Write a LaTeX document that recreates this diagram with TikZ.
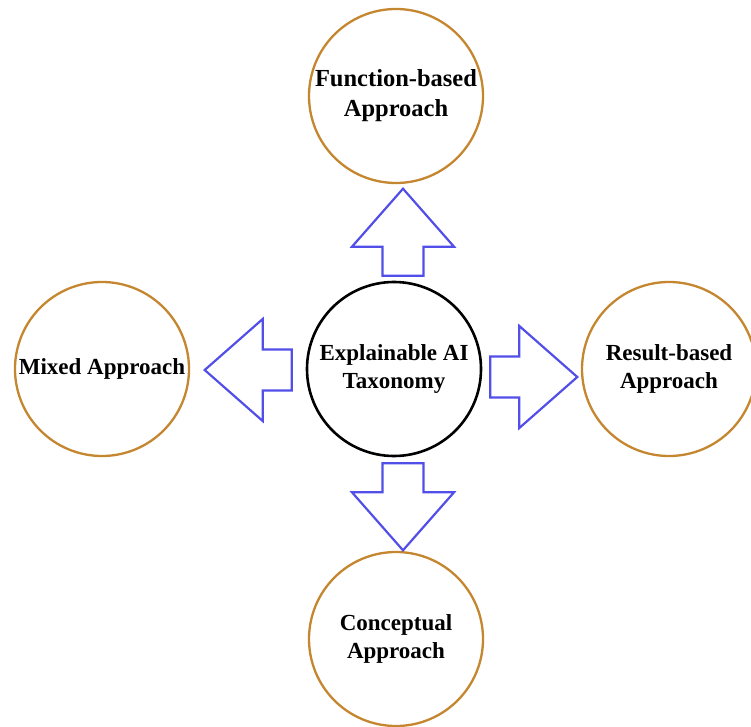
\documentclass[tikz,border=0pt]{standalone}
\usepackage{fontspec}
\setmainfont{Liberation Serif}
\usepackage{tikz}
\usetikzlibrary{calc}
\definecolor{ringorange}{RGB}{196,134,46}
\definecolor{arrowblue}{RGB}{82,78,232}
\tikzset{
  approach/.style={circle,draw=ringorange,line width=2.3pt,minimum size=174pt,inner sep=0pt,align=center,font=\fontsize{23}{28}\selectfont\bfseries},
  taxonomy/.style={approach,draw=black,line width=2.6pt},
  blockarr/.style={draw=arrowblue,line width=2.2pt,line join=miter}
}
\newcommand{\blockarrow}[2]{\draw[blockarr,shift={#1},rotate=#2] (0,-20.5) -- (29,-20.5) -- (29,-51) -- (87,0) -- (29,51) -- (29,20.5) -- (0,20.5) -- cycle;}
\begin{document}
\begin{tikzpicture}[x=1pt,y=1pt]
                \useasboundingbox (0,0) rectangle (751,726);
                \node[taxonomy] (xai) at (394,357){Explainable AI\\Taxonomy};
                \node[approach,font=\fontsize{24.5}{30}\selectfont\bfseries] (func) at (396,630){Function-based\\Approach};
                \node[approach] (concept) at (396,87){Conceptual\\Approach};
                \node[approach] (mixed) at (102,357){Mixed Approach};
                \node[approach] (result) at (669,357){Result-based\\Approach};
                \blockarrow{($(xai.north)+(9,5)$)}{90}
                \blockarrow{($(xai.south)+(9,-6)$)}{-90}
                \blockarrow{($(xai.west)+(-14,-1)$)}{180}
                \blockarrow{($(xai.east)+(8,-8)$)}{0}
              \end{tikzpicture}
\end{document}
